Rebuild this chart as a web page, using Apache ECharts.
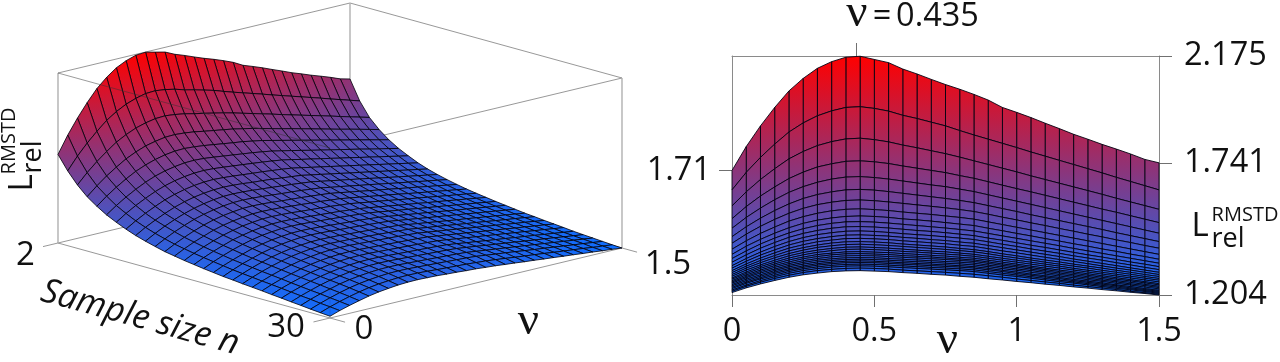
<!DOCTYPE html>
<html><head><meta charset="utf-8">
<style>html,body{margin:0;padding:0;background:#fff}#c{width:1280px;height:362px}</style>
<script src="https://cdn.jsdelivr.net/npm/echarts@6/dist/echarts.min.js"></script>
</head><body><div id="c"></div>
<script>
const nu = [0,0.05,0.1,0.15,0.2,0.25,0.3,0.35,0.4,0.45,0.5,0.55,0.6,0.65,0.7,0.75,0.8,0.85,0.9,0.95,1,1.05,1.1,1.15,1.2,1.25,1.3,1.35,1.4,1.45,1.5];
const sampleSizes = [2,3,4,5,6,7,8,9,10,11,12,13,14,15,16,17,18,19,20,21,22,23,24,25,26,27,28,29,30];
const L_n2 = [1.710,1.807,1.891,1.966,2.033,2.084,2.125,2.152,2.170,2.174,2.161,2.148,2.122,2.102,2.080,2.059,2.040,2.019,1.996,1.966,1.946,1.925,1.902,1.880,1.857,1.837,1.816,1.797,1.777,1.755,1.741];
const L_n3 = [1.631,1.702,1.763,1.817,1.866,1.903,1.932,1.952,1.966,1.969,1.962,1.951,1.934,1.921,1.906,1.891,1.872,1.854,1.837,1.820,1.803,1.785,1.768,1.751,1.734,1.717,1.700,1.682,1.665,1.648,1.631];
const L_n4 = [1.566,1.623,1.673,1.717,1.757,1.787,1.811,1.827,1.838,1.841,1.835,1.826,1.813,1.802,1.790,1.778,1.764,1.749,1.734,1.719,1.704,1.688,1.673,1.658,1.643,1.628,1.613,1.597,1.582,1.567,1.552];
const L_n5 = [1.514,1.563,1.606,1.643,1.677,1.703,1.724,1.737,1.747,1.749,1.745,1.738,1.728,1.719,1.710,1.701,1.689,1.678,1.664,1.650,1.636,1.623,1.609,1.595,1.581,1.567,1.553,1.540,1.526,1.512,1.498];
const L_n6 = [1.475,1.519,1.557,1.591,1.621,1.644,1.662,1.675,1.683,1.685,1.681,1.675,1.667,1.659,1.651,1.644,1.634,1.624,1.611,1.598,1.585,1.572,1.559,1.546,1.533,1.520,1.507,1.494,1.481,1.468,1.455];
const L_n7 = [1.441,1.481,1.516,1.547,1.574,1.596,1.612,1.623,1.631,1.633,1.630,1.624,1.617,1.610,1.603,1.596,1.588,1.579,1.567,1.555,1.543,1.530,1.518,1.506,1.494,1.482,1.470,1.457,1.445,1.433,1.421];
const L_n8 = [1.414,1.451,1.483,1.511,1.536,1.556,1.571,1.581,1.588,1.590,1.587,1.582,1.576,1.570,1.564,1.558,1.551,1.543,1.532,1.520,1.509,1.497,1.486,1.474,1.463,1.451,1.440,1.428,1.417,1.405,1.394];
const L_n9 = [1.390,1.424,1.454,1.480,1.504,1.522,1.536,1.546,1.552,1.554,1.551,1.547,1.541,1.536,1.531,1.525,1.519,1.512,1.501,1.490,1.479,1.468,1.457,1.446,1.435,1.424,1.413,1.402,1.391,1.380,1.369];
const L_n10 = [1.369,1.402,1.430,1.455,1.477,1.495,1.508,1.517,1.523,1.525,1.523,1.519,1.513,1.509,1.504,1.498,1.492,1.486,1.475,1.465,1.454,1.444,1.433,1.423,1.412,1.402,1.391,1.381,1.370,1.360,1.349];
const L_n11 = [1.352,1.383,1.411,1.435,1.456,1.473,1.486,1.495,1.501,1.502,1.500,1.496,1.491,1.486,1.481,1.476,1.470,1.464,1.454,1.444,1.434,1.424,1.414,1.404,1.393,1.383,1.373,1.363,1.353,1.343,1.333];
const L_n12 = [1.337,1.367,1.394,1.417,1.438,1.454,1.466,1.475,1.481,1.482,1.480,1.476,1.471,1.466,1.462,1.457,1.451,1.445,1.435,1.426,1.416,1.406,1.397,1.387,1.377,1.367,1.358,1.348,1.338,1.329,1.319];
const L_n13 = [1.323,1.352,1.378,1.401,1.421,1.437,1.449,1.457,1.463,1.464,1.462,1.458,1.453,1.449,1.445,1.440,1.435,1.429,1.420,1.410,1.401,1.391,1.382,1.373,1.363,1.354,1.345,1.335,1.326,1.316,1.307];
const L_n14 = [1.313,1.341,1.366,1.387,1.407,1.422,1.433,1.441,1.447,1.448,1.446,1.443,1.438,1.434,1.429,1.425,1.419,1.414,1.405,1.396,1.387,1.378,1.369,1.360,1.350,1.341,1.332,1.323,1.314,1.305,1.296];
const L_n15 = [1.303,1.330,1.354,1.375,1.394,1.408,1.420,1.427,1.433,1.434,1.432,1.429,1.424,1.420,1.416,1.412,1.406,1.401,1.392,1.383,1.375,1.366,1.357,1.348,1.340,1.331,1.322,1.313,1.305,1.296,1.287];
const L_n16 = [1.295,1.321,1.344,1.364,1.383,1.396,1.407,1.415,1.420,1.421,1.419,1.416,1.411,1.407,1.403,1.399,1.393,1.388,1.380,1.371,1.363,1.354,1.346,1.338,1.329,1.321,1.313,1.304,1.296,1.287,1.279];
const L_n17 = [1.287,1.313,1.335,1.355,1.372,1.386,1.397,1.404,1.409,1.410,1.408,1.405,1.401,1.397,1.393,1.389,1.384,1.379,1.371,1.362,1.354,1.346,1.337,1.329,1.321,1.313,1.304,1.296,1.288,1.279,1.271];
const L_n18 = [1.280,1.305,1.326,1.345,1.363,1.376,1.386,1.393,1.398,1.399,1.397,1.394,1.390,1.386,1.382,1.379,1.374,1.369,1.361,1.353,1.345,1.337,1.329,1.321,1.312,1.304,1.296,1.288,1.280,1.272,1.264];
const L_n19 = [1.273,1.297,1.319,1.337,1.354,1.367,1.377,1.384,1.389,1.390,1.388,1.385,1.381,1.378,1.374,1.370,1.366,1.361,1.353,1.345,1.337,1.329,1.321,1.313,1.305,1.297,1.289,1.281,1.273,1.265,1.257];
const L_n20 = [1.268,1.291,1.312,1.330,1.346,1.358,1.368,1.374,1.379,1.380,1.378,1.376,1.372,1.369,1.365,1.362,1.357,1.353,1.345,1.337,1.329,1.321,1.313,1.305,1.298,1.290,1.282,1.274,1.266,1.258,1.250];
const L_n21 = [1.262,1.285,1.305,1.323,1.338,1.351,1.360,1.367,1.371,1.372,1.370,1.368,1.364,1.361,1.358,1.354,1.350,1.346,1.338,1.330,1.323,1.315,1.307,1.299,1.292,1.284,1.276,1.268,1.261,1.253,1.245];
const L_n22 = [1.257,1.279,1.299,1.316,1.331,1.343,1.352,1.359,1.363,1.364,1.363,1.360,1.357,1.354,1.351,1.348,1.344,1.340,1.332,1.324,1.317,1.309,1.301,1.293,1.286,1.278,1.270,1.262,1.255,1.247,1.239];
const L_n23 = [1.252,1.274,1.293,1.309,1.324,1.336,1.345,1.351,1.355,1.356,1.355,1.352,1.349,1.346,1.343,1.340,1.337,1.333,1.325,1.318,1.310,1.303,1.295,1.287,1.280,1.272,1.264,1.257,1.249,1.242,1.234];
const L_n24 = [1.246,1.268,1.286,1.303,1.318,1.329,1.338,1.344,1.348,1.349,1.348,1.345,1.342,1.339,1.336,1.333,1.330,1.326,1.319,1.311,1.304,1.296,1.289,1.281,1.274,1.266,1.259,1.251,1.244,1.236,1.229];
const L_n25 = [1.241,1.262,1.280,1.297,1.311,1.322,1.331,1.337,1.341,1.342,1.341,1.338,1.335,1.332,1.329,1.326,1.323,1.319,1.312,1.304,1.297,1.289,1.282,1.275,1.267,1.260,1.253,1.245,1.238,1.230,1.223];
const L_n26 = [1.235,1.256,1.274,1.291,1.305,1.316,1.325,1.331,1.335,1.336,1.335,1.332,1.329,1.326,1.323,1.320,1.317,1.313,1.306,1.299,1.291,1.284,1.277,1.270,1.262,1.255,1.248,1.241,1.233,1.226,1.219];
const L_n27 = [1.230,1.251,1.269,1.284,1.299,1.310,1.318,1.324,1.328,1.329,1.328,1.325,1.322,1.319,1.316,1.313,1.310,1.306,1.299,1.292,1.285,1.278,1.271,1.264,1.257,1.250,1.243,1.236,1.229,1.222,1.215];
const L_n28 = [1.224,1.244,1.262,1.278,1.292,1.303,1.311,1.317,1.321,1.322,1.321,1.318,1.315,1.312,1.309,1.306,1.303,1.299,1.292,1.285,1.279,1.272,1.265,1.258,1.252,1.245,1.238,1.231,1.225,1.218,1.211];
const L_n29 = [1.219,1.239,1.256,1.271,1.284,1.295,1.303,1.308,1.312,1.313,1.312,1.309,1.305,1.302,1.299,1.296,1.292,1.288,1.282,1.276,1.269,1.263,1.257,1.251,1.244,1.238,1.232,1.226,1.219,1.213,1.207];
const L_n30 = [1.214,1.233,1.249,1.263,1.276,1.286,1.293,1.299,1.302,1.303,1.301,1.299,1.295,1.292,1.288,1.285,1.280,1.276,1.270,1.265,1.259,1.254,1.248,1.243,1.237,1.232,1.226,1.221,1.215,1.210,1.204];
const surface = [L_n2,L_n3,L_n4,L_n5,L_n6,L_n7,L_n8,L_n9,L_n10,L_n11,L_n12,L_n13,L_n14,L_n15,L_n16,L_n17,L_n18,L_n19,L_n20,L_n21,L_n22,L_n23,L_n24,L_n25,L_n26,L_n27,L_n28,L_n29,L_n30];

const rightTickValues = [1.204,1.741,2.175];
const leftTickValues = [1.71];
const nuTickValues = [0,0.5,1,1.5];
const nuPeak = 0.435;

const LMIN = 1.204, LMAX = 2.175, NUMAX = 1.5, NMIN = 2, NMAX = 30;
const FONT = 'Open Sans';
const LOW = [15,110,255], HIGH = [255,0,0];
function colorOf(L){
  const t = Math.max(0,Math.min(1,(L-LMIN)/(LMAX-LMIN)));
  return 'rgb('+LOW.map((c,i)=>Math.round(c+(HIGH[i]-c)*t)).join(',')+')';
}
// oblique view of the box, as fractions of the hidden left grid
function project(v,n,L){
  const tv = v/NUMAX, tn = (n-NMIN)/(NMAX-NMIN), h = (L-LMIN)/(LMAX-LMIN);
  return [(272*tn+292*tv)/564, (75-75*tn+70*tv+170*h)/315];
}
function cellCorners(i,j){
  return [[j,i],[j+1,i],[j+1,i+1],[j,i+1]].map(([a,b])=>({v:nu[a],n:sampleSizes[b],L:surface[b][a]}));
}
const cells3d = [], cells2d = [];
for(let i=0;i<sampleSizes.length-1;i++){
  for(let j=nu.length-2;j>=0;j--){ cells3d.push([i,j]); cells2d.push([i,j]); }
}
function renderCell3d(params,api){
  const c = cellCorners(api.value(0),api.value(1));
  const pts = c.map(p=>api.coord(project(p.v,p.n,p.L)));
  let hi=0,lo=0; c.forEach((p,k)=>{ if(p.L>c[hi].L) hi=k; if(p.L<c[lo].L) lo=k; });
  const fill = new echarts.graphic.LinearGradient(pts[hi][0],pts[hi][1],pts[lo][0],pts[lo][1],
    [{offset:0,color:colorOf(c[hi].L)},{offset:1,color:colorOf(c[lo].L)}],true);
  return {type:'polygon',shape:{points:pts},style:{fill:fill,stroke:'rgba(0,0,10,0.95)',lineWidth:0.85}};
}
function renderCell2d(params,api){
  const c = cellCorners(api.value(0),api.value(1));
  const pts = c.map(p=>api.coord([p.v,p.L]));
  const top = api.coord([0,LMAX])[1], bot = api.coord([0,LMIN])[1];
  const fill = new echarts.graphic.LinearGradient(0,top,0,bot,
    [{offset:0,color:colorOf(LMAX)},{offset:1,color:colorOf(LMIN)}],true);
  return {type:'polygon',shape:{points:pts},style:{fill:fill,stroke:'rgba(0,0,15,0.92)',lineWidth:0.95}};
}
// box edges given in data space: [nu1,n1,L1,nu2,n2,L2,kind]
const backEdges = [
 [0,2,LMAX,1.5,2,LMAX,0],[1.5,2,LMAX,1.5,30,LMAX,0],[1.5,30,LMAX,0,30,LMAX,0],
 [0,2,LMIN,1.5,2,LMIN,0],[1.5,2,LMIN,1.5,30,LMIN,0],[0,2,LMIN,0,30,LMIN,0],[0,30,LMIN,1.5,30,LMIN,0],
 [0,2,LMIN,0,2,LMAX,1],[1.5,2,LMIN,1.5,2,LMAX,1],[1.5,30,LMIN,1.5,30,LMAX,1],
 [0,2,LMIN,-0.077,2,LMIN,0],[0,30,LMIN,-0.085,30,LMIN,0],[0,30,LMIN,0,31.55,LMIN,0],[1.5,30,LMIN,1.5,31.55,LMIN,0]
];
const overEdges = [
 [0,2,LMAX,0,30,LMAX,2],[0,30,LMIN,0,30,LMAX,3]
];
function renderEdge(params,api){
  const a = api.coord(project(api.value(0),api.value(1),api.value(2)));
  const b = api.coord(project(api.value(3),api.value(4),api.value(5)));
  const k = api.value(6);
  const stroke = ['#8c8c8c','#b0b0b0','rgba(50,50,50,0.55)','rgba(40,40,60,0.18)'][k];
  return {type:'line',shape:{x1:a[0],y1:a[1],x2:b[0],y2:b[1]},style:{stroke:stroke,lineWidth:k===1?1.4:0.9}};
}
function txt(text,x,y,size,opt){
  return {type:'text',x:x,y:y,silent:true,rotation:(opt&&opt.rot)||0,
    style:{text:text,fontFamily:(opt&&opt.font)||FONT,fontSize:size,fontStyle:(opt&&opt.italic)?'italic':'normal',
      fill:'#111',textAlign:(opt&&opt.align)||'center',textVerticalAlign:'middle'}};
}
const up = Math.PI/2;
const graphicTexts = [
  txt('2',25.5,256,33), txt('30',286,328,33), txt('0',364,330,33), txt('1.5',668,265,33),
  txt('ν',528.5,322,47,{font:'Liberation Serif'}),
  txt('Sample size n',140,318,34,{italic:true,rot:-0.27}),
  txt('L',23,183,33,{rot:up}), txt('rel',33,157,27,{rot:up}), txt('RMSTD',9,141,20,{rot:up}),
  txt('ν',857,14,47,{font:'Liberation Serif'}), txt('=',882,17,32.5), txt('0.435',937.5,17,32.5),
  txt('ν',947.5,341,47,{font:'Liberation Serif'}),
  txt('L',1200,227,33), txt('rel',1228,239,27), txt('RMSTD',1245,215,20)
];
const axisLine = {show:true,onZero:false,lineStyle:{color:'#8a8a8a',width:1}};
const tickStyle = {color:'#707070',width:1};
const labelBase = {fontFamily:FONT,fontSize:32.5,color:'#111'};
const option = {
  animation:false, backgroundColor:'#fff',
  graphic:{elements:graphicTexts},
  grid:[
    {left:58,width:564,top:3,height:315,show:false},
    {left:732,width:427,top:56,height:239,show:false}
  ],
  xAxis:[
    {gridIndex:0,type:'value',min:0,max:1,show:false},
    {gridIndex:1,type:'value',min:0,max:NUMAX,position:'bottom',splitLine:{show:false},axisLine:axisLine,
      axisTick:{show:true,length:12,inside:false,lineStyle:tickStyle,customValues:nuTickValues},
      axisLabel:Object.assign({},labelBase,{margin:20,showMinLabel:true,showMaxLabel:true,alignMinLabel:'center',alignMaxLabel:'center',customValues:nuTickValues,formatter:v=>String(v)})},
    {gridIndex:1,type:'value',min:0,max:NUMAX,position:'top',splitLine:{show:false},axisLine:axisLine,
      axisTick:{show:true,length:13,lineStyle:tickStyle,customValues:[nuPeak]},axisLabel:{show:false}}
  ],
  yAxis:[
    {gridIndex:0,type:'value',min:0,max:1,show:false},
    {gridIndex:1,type:'value',min:LMIN,max:LMAX,position:'right',splitLine:{show:false},axisLine:axisLine,
      axisTick:{show:true,length:13,lineStyle:tickStyle,customValues:rightTickValues},
      axisLabel:Object.assign({},labelBase,{margin:25,customValues:rightTickValues,showMinLabel:true,showMaxLabel:true,verticalAlignMinLabel:'middle',verticalAlignMaxLabel:'middle',formatter:v=>v.toFixed(3)})},
    {gridIndex:1,type:'value',min:LMIN,max:LMAX,position:'left',splitLine:{show:false},axisLine:axisLine,
      axisTick:{show:true,length:13,lineStyle:tickStyle,customValues:leftTickValues},
      axisLabel:Object.assign({},labelBase,{margin:21,customValues:leftTickValues,formatter:v=>v.toFixed(2)})}
  ],
  series:[
    {type:'custom',name:'box back',xAxisIndex:0,yAxisIndex:0,z:1,silent:true,clip:false,renderItem:renderEdge,data:backEdges,encode:{x:0,y:2}},
    {type:'custom',name:'surface 3D',xAxisIndex:0,yAxisIndex:0,z:2,silent:true,clip:false,renderItem:renderCell3d,data:cells3d,encode:{x:0,y:1}},
    {type:'custom',name:'box over',xAxisIndex:0,yAxisIndex:0,z:3,silent:true,clip:false,renderItem:renderEdge,data:overEdges,encode:{x:0,y:2}},
    {type:'custom',name:'surface profile',xAxisIndex:1,yAxisIndex:1,z:2,silent:true,clip:false,renderItem:renderCell2d,data:cells2d,encode:{x:0,y:1}}
  ]
};
echarts.init(document.getElementById('c'),null,{renderer:'canvas'}).setOption(option);
</script></body></html>
